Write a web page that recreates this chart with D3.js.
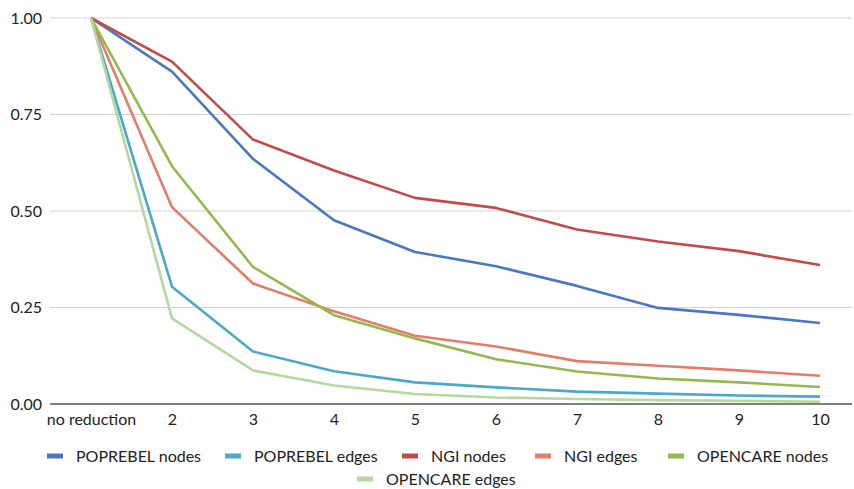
<!DOCTYPE html>
<html><head><meta charset="utf-8">
<script src="https://cdn.jsdelivr.net/npm/d3@7"></script>
<style>body{margin:0;background:#fff}svg{display:block}</style>
</head><body><svg id="c" width="854" height="489"></svg>
<script>
const categories = ["no reduction","2","3","4","5","6","7","8","9","10"];
const seriesNames = ["POPREBEL nodes","POPREBEL edges","NGI nodes","NGI edges","OPENCARE nodes","OPENCARE edges"];
const poprebelNodes = [1.0,0.861,0.635,0.476,0.394,0.357,0.306,0.249,0.231,0.210];
const poprebelEdges = [1.0,0.304,0.136,0.085,0.056,0.043,0.032,0.027,0.022,0.019];
const ngiNodes      = [1.0,0.887,0.685,0.605,0.534,0.508,0.452,0.421,0.396,0.360];
const ngiEdges      = [1.0,0.510,0.312,0.240,0.177,0.149,0.111,0.099,0.087,0.073];
const opencareNodes = [1.0,0.616,0.355,0.230,0.170,0.116,0.084,0.066,0.056,0.044];
const opencareEdges = [1.0,0.222,0.087,0.048,0.026,0.017,0.013,0.010,0.008,0.006];
const yTicks = [0,0.25,0.5,0.75,1.0];
const colors = ["#4a78c0","#4aa8c8","#c24b49","#e57c6a","#93b94c","#b5d8a0"];

const seriesValues = [poprebelNodes,poprebelEdges,ngiNodes,ngiEdges,opencareNodes,opencareEdges];
const svg = d3.select("#c");
const font = "Lato, 'Open Sans', sans-serif";
const x = d3.scalePoint().domain(categories).range([91,820]);
const y = d3.scaleLinear().domain([0,1]).range([404,18]);

// gridlines
svg.append("g").selectAll("line").data(yTicks.filter(d=>d>0)).join("line")
  .attr("x1",50).attr("x2",852).attr("y1",d=>y(d)).attr("y2",d=>y(d))
  .attr("stroke","#d4d4d4").attr("stroke-width",1.2);

// y axis labels
const yAxis = svg.append("g").attr("transform","translate(50,0)")
  .call(d3.axisLeft(y).tickValues(yTicks).tickFormat(d3.format(".2f")).tickSize(0).tickPadding(8));
yAxis.select(".domain").remove();
yAxis.selectAll("text").attr("font-family",font).attr("font-size",16).attr("fill","#222");

// x axis
const xAxis = svg.append("g").attr("transform","translate(0,404)")
  .call(d3.axisBottom(x).tickSize(0).tickPadding(10));
xAxis.select(".domain").attr("d","M50,0H852").attr("stroke","#555").attr("stroke-width",1.6);
xAxis.selectAll("text").attr("font-family",font).attr("font-size",16).attr("fill","#222");

// lines
const line = d3.line().x((d,i)=>x(categories[i])).y(d=>y(d));
svg.append("g").selectAll("path").data(seriesValues).join("path")
  .attr("d",line).attr("fill","none")
  .attr("stroke",(d,i)=>colors[i]).attr("stroke-width",2.6)
  .attr("stroke-linejoin","round");

// legend
const legendPos = [[47,456],[225,456],[402,456],[535,456],[668,456],[357,479]];
const lg = svg.append("g").selectAll("g").data(seriesNames).join("g")
  .attr("transform",(d,i)=>`translate(${legendPos[i][0]},${legendPos[i][1]})`);
lg.append("rect").attr("x",0).attr("y",-2.5).attr("width",16).attr("height",5)
  .attr("fill",(d,i)=>colors[i]);
lg.append("text").attr("x",29).attr("y",6).text(d=>d)
  .attr("font-family",font).attr("font-size",16).attr("fill","#222");
</script></body></html>
